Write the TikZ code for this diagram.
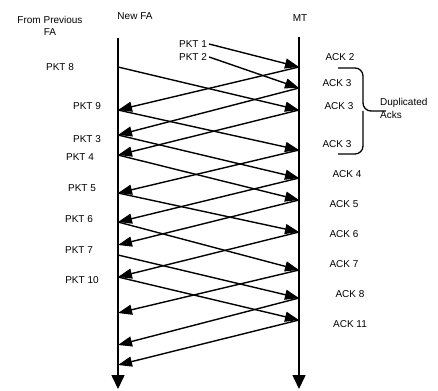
\documentclass[tikz,border=0pt]{standalone}
\usepackage{fontspec}
\setmainfont{Liberation Sans}
\usetikzlibrary{arrows.meta,positioning}

\begin{document}
\begin{tikzpicture}[
  x=1pt, y=-1pt,
  font=\fontsize{10}{12.5}\selectfont,
  lab/.style={inner sep=0pt},
  msg/.style={-{Triangle[length=14pt,width=10pt]}, line width=1.4pt},
  axis/.style={-{Triangle[length=14pt,width=13pt]}, line width=1.6pt},
  brc/.style={line width=1.3pt, rounded corners=8pt}
]
\useasboundingbox (0,0) rectangle (438,390);

% headers
\node[lab, align=center] (prev) at (50,26) {From Previous\\FA};
\node[lab] (newfa) at (135,16) {New FA};
\node[lab] (mt) at (300,18) {MT};

% time lines
\coordinate (fatop) at (118,38);
\coordinate (fabot) at (118,389);
\coordinate (mttop) at (299,37);
\coordinate (mtbot) at (299,389);
\draw[axis] (fatop) -- (fabot);
\draw[axis] (mttop) -- (mtbot);

% events on New FA
\coordinate (f1) at (118,67);
\coordinate (f2) at (118,110);
\coordinate (f3) at (118,135);
\coordinate (f4) at (118,155);
\coordinate (f5) at (118,193);
\coordinate (f6) at (118,222);
\coordinate (f7) at (118,245);
\coordinate (f8) at (118,255);
\coordinate (f9) at (118,277);
\coordinate (f10) at (118,313);
\coordinate (f11) at (118,345);
\coordinate (f12) at (118,365);

% events on MT
\coordinate (m1) at (299,67);
\coordinate (m2) at (299,88);
\coordinate (m3) at (299,110);
\coordinate (m4) at (299,150);
\coordinate (m5) at (299,178);
\coordinate (m6) at (299,200);
\coordinate (m7) at (299,232);
\coordinate (m8) at (299,270);
\coordinate (m9) at (299,298);
\coordinate (m10) at (299,320);

% packet labels
\node[lab] (pkt1) at (193,44) {PKT 1};
\node[lab] (pkt2) at (193,57) {PKT 2};
\node[lab] (pkt8) at (60,67) {PKT 8};
\node[lab] (pkt9) at (87,106) {PKT 9};
\node[lab] (pkt3) at (87,139) {PKT 3};
\node[lab] (pkt4) at (80,157) {PKT 4};
\node[lab] (pkt5) at (82,188) {PKT 5};
\node[lab] (pkt6) at (79,219) {PKT 6};
\node[lab] (pkt7) at (79,250) {PKT 7};
\node[lab] (pkt10) at (82,280) {PKT 10};

% ack labels
\node[lab] (ack2) at (340,57) {ACK 2};
\node[lab] (ack3a) at (337,83) {ACK 3};
\node[lab] (ack3b) at (339,106) {ACK 3};
\node[lab] (ack3c) at (337,144) {ACK 3};
\node[lab] (ack4) at (347,174) {ACK 4};
\node[lab] (ack5) at (344,204) {ACK 5};
\node[lab] (ack6) at (344,234) {ACK 6};
\node[lab] (ack7) at (344,264) {ACK 7};
\node[lab] (ack8) at (350,294) {ACK 8};
\node[lab] (ack11) at (350,324) {ACK 11};
\node[lab, align=left, anchor=west] (dup) at (380,108.5) {Duplicated\\Acks};

% packets
\draw[msg] ([xshift=2pt]pkt1.east) -- (m1);
\draw[msg] ([xshift=2pt]pkt2.east) -- (m2);
\draw[msg] (f1) -- (m3);
\draw[msg] (f2) -- (m4);
\draw[msg] (f3) -- (m5);
\draw[msg] (f4) -- (m6);
\draw[msg] (f5) -- (m7);
\draw[msg] (f6) -- (m8);
\draw[msg] (f8) -- (m9);
\draw[msg] (f9) -- (m10);

% acks
\draw[msg] (m1) -- (f2);
\draw[msg] (m2) -- (f3);
\draw[msg] (m3) -- (f4);
\draw[msg] (m4) -- (f5);
\draw[msg] (m5) -- (f6);
\draw[msg] (m6) -- (f7);
\draw[msg] (m7) -- (f9);
\draw[msg] (m8) -- (f10);
\draw[msg] (m9) -- (f11);
\draw[msg] (m10) -- (f12);

% brace round the duplicated acks
\coordinate (brtop) at (338,68);
\coordinate (brbot) at (338,154);
\coordinate (brtip) at (386,111);
\draw[brc] (brtop) -| (363,111) -- (brtip);
\draw[brc] (363,111) |- (brbot);
\end{tikzpicture}
\end{document}
